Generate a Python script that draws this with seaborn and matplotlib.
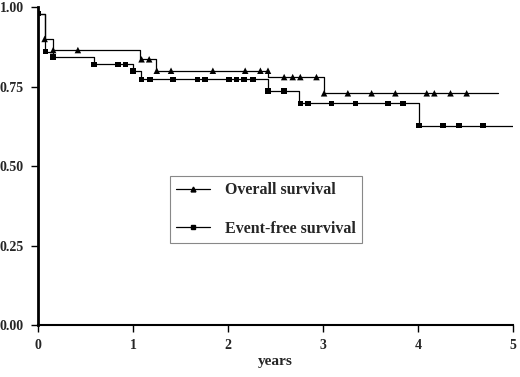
import matplotlib
matplotlib.use("Agg")
import pandas as pd
import seaborn as sns
import matplotlib.pyplot as plt
from matplotlib.lines import Line2D

# Step curves (time in years, survival proportion)
os_time = [0, 0.07, 0.16, 1.07, 1.24, 2.42, 3.01, 4.84]
os_surv = [0.98, 0.90, 0.865, 0.836, 0.80, 0.78, 0.729, 0.729]
efs_time = [0, 0.07, 0.16, 0.59, 1.0, 1.08, 2.42, 2.75, 4.01, 5.0]
efs_surv = [0.98, 0.86, 0.843, 0.82, 0.80, 0.773, 0.736, 0.697, 0.627, 0.627]

# Marks on the curves
os_mark_t = [0.07, 0.16, 0.42, 1.09, 1.17, 1.25, 1.40, 1.84, 2.18, 2.34, 2.42,
             2.59, 2.68, 2.76, 2.93, 3.01, 3.26, 3.51, 3.76, 4.09, 4.17, 4.34, 4.51]
os_mark_s = [0.90, 0.865, 0.865, 0.836, 0.836, 0.80, 0.80, 0.80, 0.80, 0.80, 0.80,
             0.78, 0.78, 0.78, 0.78, 0.729, 0.729, 0.729, 0.729, 0.729, 0.729, 0.729, 0.729]
efs_mark_t = [0, 0.08, 0.16, 0.59, 0.84, 0.92, 1.0, 1.09, 1.18, 1.42, 1.68, 1.76,
              2.01, 2.09, 2.17, 2.26, 2.42, 2.59, 2.76, 2.84, 3.09, 3.34, 3.68,
              3.84, 4.01, 4.26, 4.43, 4.68]
efs_mark_s = [0.98, 0.86, 0.843, 0.82, 0.82, 0.82, 0.80, 0.773, 0.773, 0.773, 0.773,
              0.773, 0.773, 0.773, 0.773, 0.773, 0.736, 0.736, 0.697, 0.697, 0.697,
              0.697, 0.697, 0.697, 0.627, 0.627, 0.627, 0.627]

sns.set_style("ticks")
plt.rcParams['font.family'] = ['Liberation Serif', 'DejaVu Serif']
plt.rcParams['font.weight'] = 'bold'

fig = plt.figure(figsize=(5.2, 3.77), dpi=100)
ax = fig.add_axes([0.073, 0.138, 0.914, 0.843])

os_df = pd.DataFrame({'t': os_time, 's': os_surv})
efs_df = pd.DataFrame({'t': efs_time, 's': efs_surv})
sns.lineplot(data=os_df, x='t', y='s', drawstyle='steps-post', color='black',
             lw=0.9, ax=ax, estimator=None)
sns.lineplot(data=efs_df, x='t', y='s', drawstyle='steps-post', color='black',
             lw=0.9, ax=ax, estimator=None)
ax.vlines(0, 0.98, 1.0, color='black', lw=0.9)

sns.scatterplot(x=os_mark_t, y=os_mark_s, marker='^', s=22, color='black',
                edgecolor='none', ax=ax, zorder=3)
sns.scatterplot(x=efs_mark_t, y=efs_mark_s, marker='s', s=16, color='black',
                edgecolor='none', ax=ax, zorder=3)

ax.set_xlim(0, 5)
ax.set_ylim(0, 1.0)
ax.set_xticks([0, 1, 2, 3, 4, 5])
ax.set_yticks([0, 0.25, 0.5, 0.75, 1.0])
ax.set_yticklabels(['0.00', '0.25', '0.50', '0.75', '1.00'])
ax.tick_params(axis='both', labelsize=10, length=5, width=1, color='black')
ax.tick_params(axis='x', pad=5)
ax.tick_params(axis='y', pad=5)
ax.set_xlabel('years', fontsize=11, fontweight='bold', labelpad=2)
ax.set_ylabel('')
for lab in ax.get_xticklabels() + ax.get_yticklabels():
    lab.set_fontweight('bold')
sns.despine(ax=ax)
ax.spines['left'].set_linewidth(2)
ax.spines['bottom'].set_linewidth(1.5)
ax.spines['left'].set_color('black')
ax.spines['bottom'].set_color('black')

handles = [Line2D([], [], color='black', lw=0.9, marker='^', markersize=3.5),
           Line2D([], [], color='black', lw=0.9, marker='s', markersize=3.5)]
leg = ax.legend(handles, ['Overall survival', 'Event-free survival'],
                loc='upper left', bbox_to_anchor=(0.278, 0.469), fancybox=False,
                edgecolor='#888888', framealpha=1, handlelength=2.1,
                labelspacing=1.4, borderpad=0.4, handletextpad=0.95,
                borderaxespad=0, prop={'weight': 'bold', 'size': 11.5})
leg.get_frame().set_linewidth(0.8)

fig.savefig('out.png', dpi=100)
